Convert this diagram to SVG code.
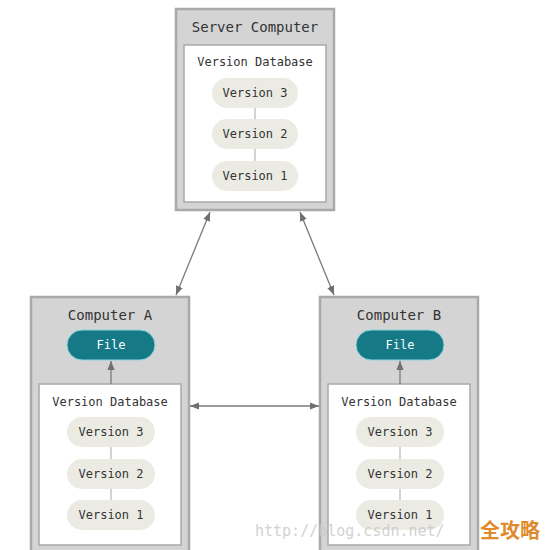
<svg xmlns="http://www.w3.org/2000/svg" width="547" height="550" viewBox="0 0 547 550">
<defs>
<style>
.outer{fill:#d4d4d4;stroke:#a9a9a9;stroke-width:2.5}
.inner{fill:#ffffff;stroke:#a9a9a9;stroke-width:1.5}
.pill{fill:#ebebe4}
.file{fill:#157a86;stroke:#8fd4dc;stroke-width:1}
.t{font-family:"DejaVu Sans Mono","Liberation Mono",monospace;fill:#333;text-anchor:middle}
.title{font-size:14px}
.lbl{font-size:12px}
.ft{font-size:12px;fill:#ffffff}
.link{stroke:#b5b5b5;stroke-width:1.2}
.conn{stroke:#7a7a7a;stroke-width:1.3;fill:none}
</style>
<marker id="ah" viewBox="0 0 10 10" refX="10" refY="5" markerWidth="9" markerHeight="9" markerUnits="userSpaceOnUse" orient="auto-start-reverse">
<path d="M0,1 L10,5 L0,9 z" fill="#6f6f6f"/>
</marker>
</defs>
<rect width="547" height="550" fill="#ffffff"/>

<g id="server">
<rect class="outer" x="176" y="9" width="158" height="201"/>
<text class="t title" x="255" y="32">Server Computer</text>
<rect class="inner" x="184" y="45" width="142" height="157"/>
<text class="t lbl" x="255" y="66">Version Database</text>
<line class="link" x1="255" y1="108" x2="255" y2="119"/>
<line class="link" x1="255" y1="149" x2="255" y2="161"/>
<rect class="pill" x="212" y="78" width="86" height="30" rx="15"/>
<text class="t lbl" x="255" y="97">Version 3</text>
<rect class="pill" x="212" y="119" width="86" height="30" rx="15"/>
<text class="t lbl" x="255" y="138">Version 2</text>
<rect class="pill" x="212" y="161" width="86" height="30" rx="15"/>
<text class="t lbl" x="255" y="180">Version 1</text>
</g>

<g id="computerA">
<rect class="outer" x="31" y="297" width="158" height="256"/>
<text class="t title" x="110" y="320">Computer A</text>
<rect class="file" x="67" y="330" width="88" height="30" rx="15"/>
<text class="t ft" x="111" y="349">File</text>
<rect class="inner" x="39" y="384" width="142" height="161"/>
<text class="t lbl" x="110" y="406">Version Database</text>
<line class="link" x1="111" y1="447" x2="111" y2="459"/>
<line class="link" x1="111" y1="489" x2="111" y2="500"/>
<rect class="pill" x="67" y="417" width="88" height="30" rx="15"/>
<text class="t lbl" x="111" y="436">Version 3</text>
<rect class="pill" x="67" y="459" width="88" height="30" rx="15"/>
<text class="t lbl" x="111" y="478">Version 2</text>
<rect class="pill" x="67" y="500" width="88" height="30" rx="15"/>
<text class="t lbl" x="111" y="519">Version 1</text>
</g>

<g id="computerB">
<rect class="outer" x="320" y="297" width="158" height="256"/>
<text class="t title" x="399" y="320">Computer B</text>
<rect class="file" x="356" y="330" width="88" height="30" rx="15"/>
<text class="t ft" x="400" y="349">File</text>
<rect class="inner" x="328" y="384" width="142" height="161"/>
<text class="t lbl" x="399" y="406">Version Database</text>
<line class="link" x1="400" y1="447" x2="400" y2="459"/>
<line class="link" x1="400" y1="489" x2="400" y2="500"/>
<rect class="pill" x="356" y="417" width="88" height="30" rx="15"/>
<text class="t lbl" x="400" y="436">Version 3</text>
<rect class="pill" x="356" y="459" width="88" height="30" rx="15"/>
<text class="t lbl" x="400" y="478">Version 2</text>
<rect class="pill" x="356" y="500" width="88" height="30" rx="15"/>
<text class="t lbl" x="400" y="519">Version 1</text>
</g>

<g id="connectors">
<line class="conn" x1="210" y1="212" x2="176" y2="295" marker-start="url(#ah)" marker-end="url(#ah)"/>
<line class="conn" x1="300" y1="212" x2="334" y2="295" marker-start="url(#ah)" marker-end="url(#ah)"/>
<line class="conn" x1="190" y1="406" x2="319" y2="406" marker-start="url(#ah)" marker-end="url(#ah)"/>
<line class="conn" x1="111" y1="384" x2="111" y2="361" marker-end="url(#ah)"/>
<line class="conn" x1="400" y1="384" x2="400" y2="361" marker-end="url(#ah)"/>
</g>

<g id="watermark">
<text x="255" y="536" font-family="'DejaVu Sans Mono',monospace" font-size="15" fill="#c8c8c8" opacity="0.8">http://blog.csdn.net/</text>
<text x="480" y="538" font-family="'Noto Sans CJK SC',sans-serif" font-size="20" font-weight="bold" fill="#e08a2a">全攻略</text>
</g>
</svg>
